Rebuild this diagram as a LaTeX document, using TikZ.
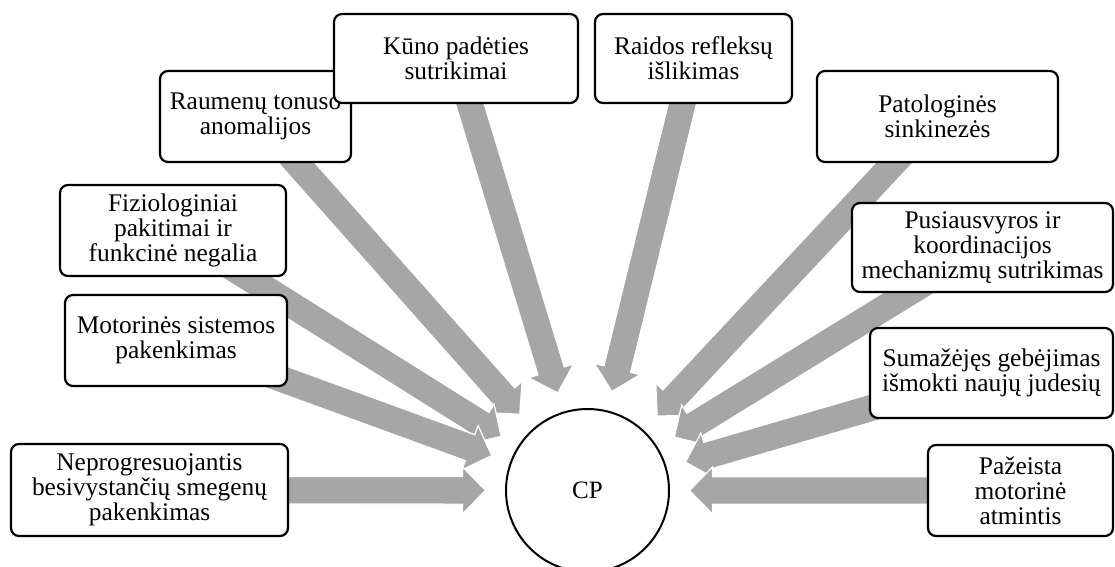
\documentclass[tikz,border=0pt]{standalone}
\usepackage{fontspec}
\setmainfont{Liberation Serif}
\usetikzlibrary{calc}
\pgfdeclarelayer{bg}
\pgfsetlayers{bg,main}
\definecolor{arrowgray}{RGB}{166,166,166}
\newcommand\cparrow[1]{%
  \coordinate (T) at (#1.center);
  \coordinate (P) at ($(cp.center)!102pt!(T)$);
  \coordinate (B) at ($(P)!23pt!(T)$);
  \path[blockarrow] ($(T)!13.75pt!90:(P)$) -- ($(B)!13.75pt!90:(P)$) -- ($(B)!23.5pt!90:(P)$) -- (P)
    -- ($(B)!23.5pt!-90:(P)$) -- ($(B)!13.75pt!-90:(P)$) -- ($(T)!13.75pt!-90:(P)$) -- cycle;
}
\begin{document}
\begin{tikzpicture}[x=1pt,y=-1pt,
  box/.style={draw=black, line width=2.2pt, rounded corners=8pt, fill=white, align=center,
    inner sep=0pt, font=\fontsize{25.4pt}{25pt}\selectfont},
  hub/.style={circle, draw=black, line width=2pt, fill=white, minimum size=163pt,
    inner sep=0pt, font=\fontsize{25pt}{25pt}\selectfont},
  blockarrow/.style={fill=arrowgray, draw=white, line width=1.2pt, line join=miter}
]
\useasboundingbox (0,0) rectangle (1115,566);

\node[hub] (cp) at (587.5,490.5) {CP};

\node[box, minimum width=277pt, minimum height=92pt] (neprog) at (149.5,490)
  {Neprogresuojantis\\besivystančių smegenų\\pakenkimas};
\node[box, minimum width=222pt, minimum height=91pt] (motor) at (176,340.5)
  {Motorinės sistemos\\pakenkimas};
\node[box, minimum width=226pt, minimum height=91pt] (fiziol) at (173,230.5)
  {Fiziologiniai\\pakitimai ir\\funkcinė negalia};
\node[box, minimum width=191pt, minimum height=91pt] (raumen) at (255.5,116.5)
  {Raumenų tonuso\\anomalijos};
\node[box, minimum width=244pt, minimum height=89pt] (kuno) at (456,58.5)
  {Kūno padėties\\sutrikimai};
\node[box, minimum width=197pt, minimum height=89pt] (raidos) at (693.5,58.5)
  {Raidos refleksų\\išlikimas};
\node[box, minimum width=241pt, minimum height=91pt] (patol) at (937.5,116.5)
  {Patologinės\\sinkinezės};
\node[box, minimum width=261pt, minimum height=89pt] (pusi) at (982.5,247.5)
  {Pusiausvyros ir\\koordinacijos\\mechanizmų sutrikimas};
\node[box, minimum width=243pt, minimum height=90pt] (sumaz) at (991.5,373)
  {Sumažėjęs gebėjimas\\išmokti naujų judesių};
\node[box, minimum width=185pt, minimum height=91pt] (pazeista) at (1020.5,490.5)
  {Pažeista\\motorinė\\atmintis};

\begin{pgfonlayer}{bg}
  \cparrow{kuno}
  \cparrow{raidos}
  \cparrow{raumen}
  \cparrow{patol}
  \cparrow{fiziol}
  \cparrow{pusi}
  \cparrow{motor}
  \cparrow{sumaz}
  \cparrow{neprog}
  \cparrow{pazeista}
\end{pgfonlayer}
\end{tikzpicture}
\end{document}
